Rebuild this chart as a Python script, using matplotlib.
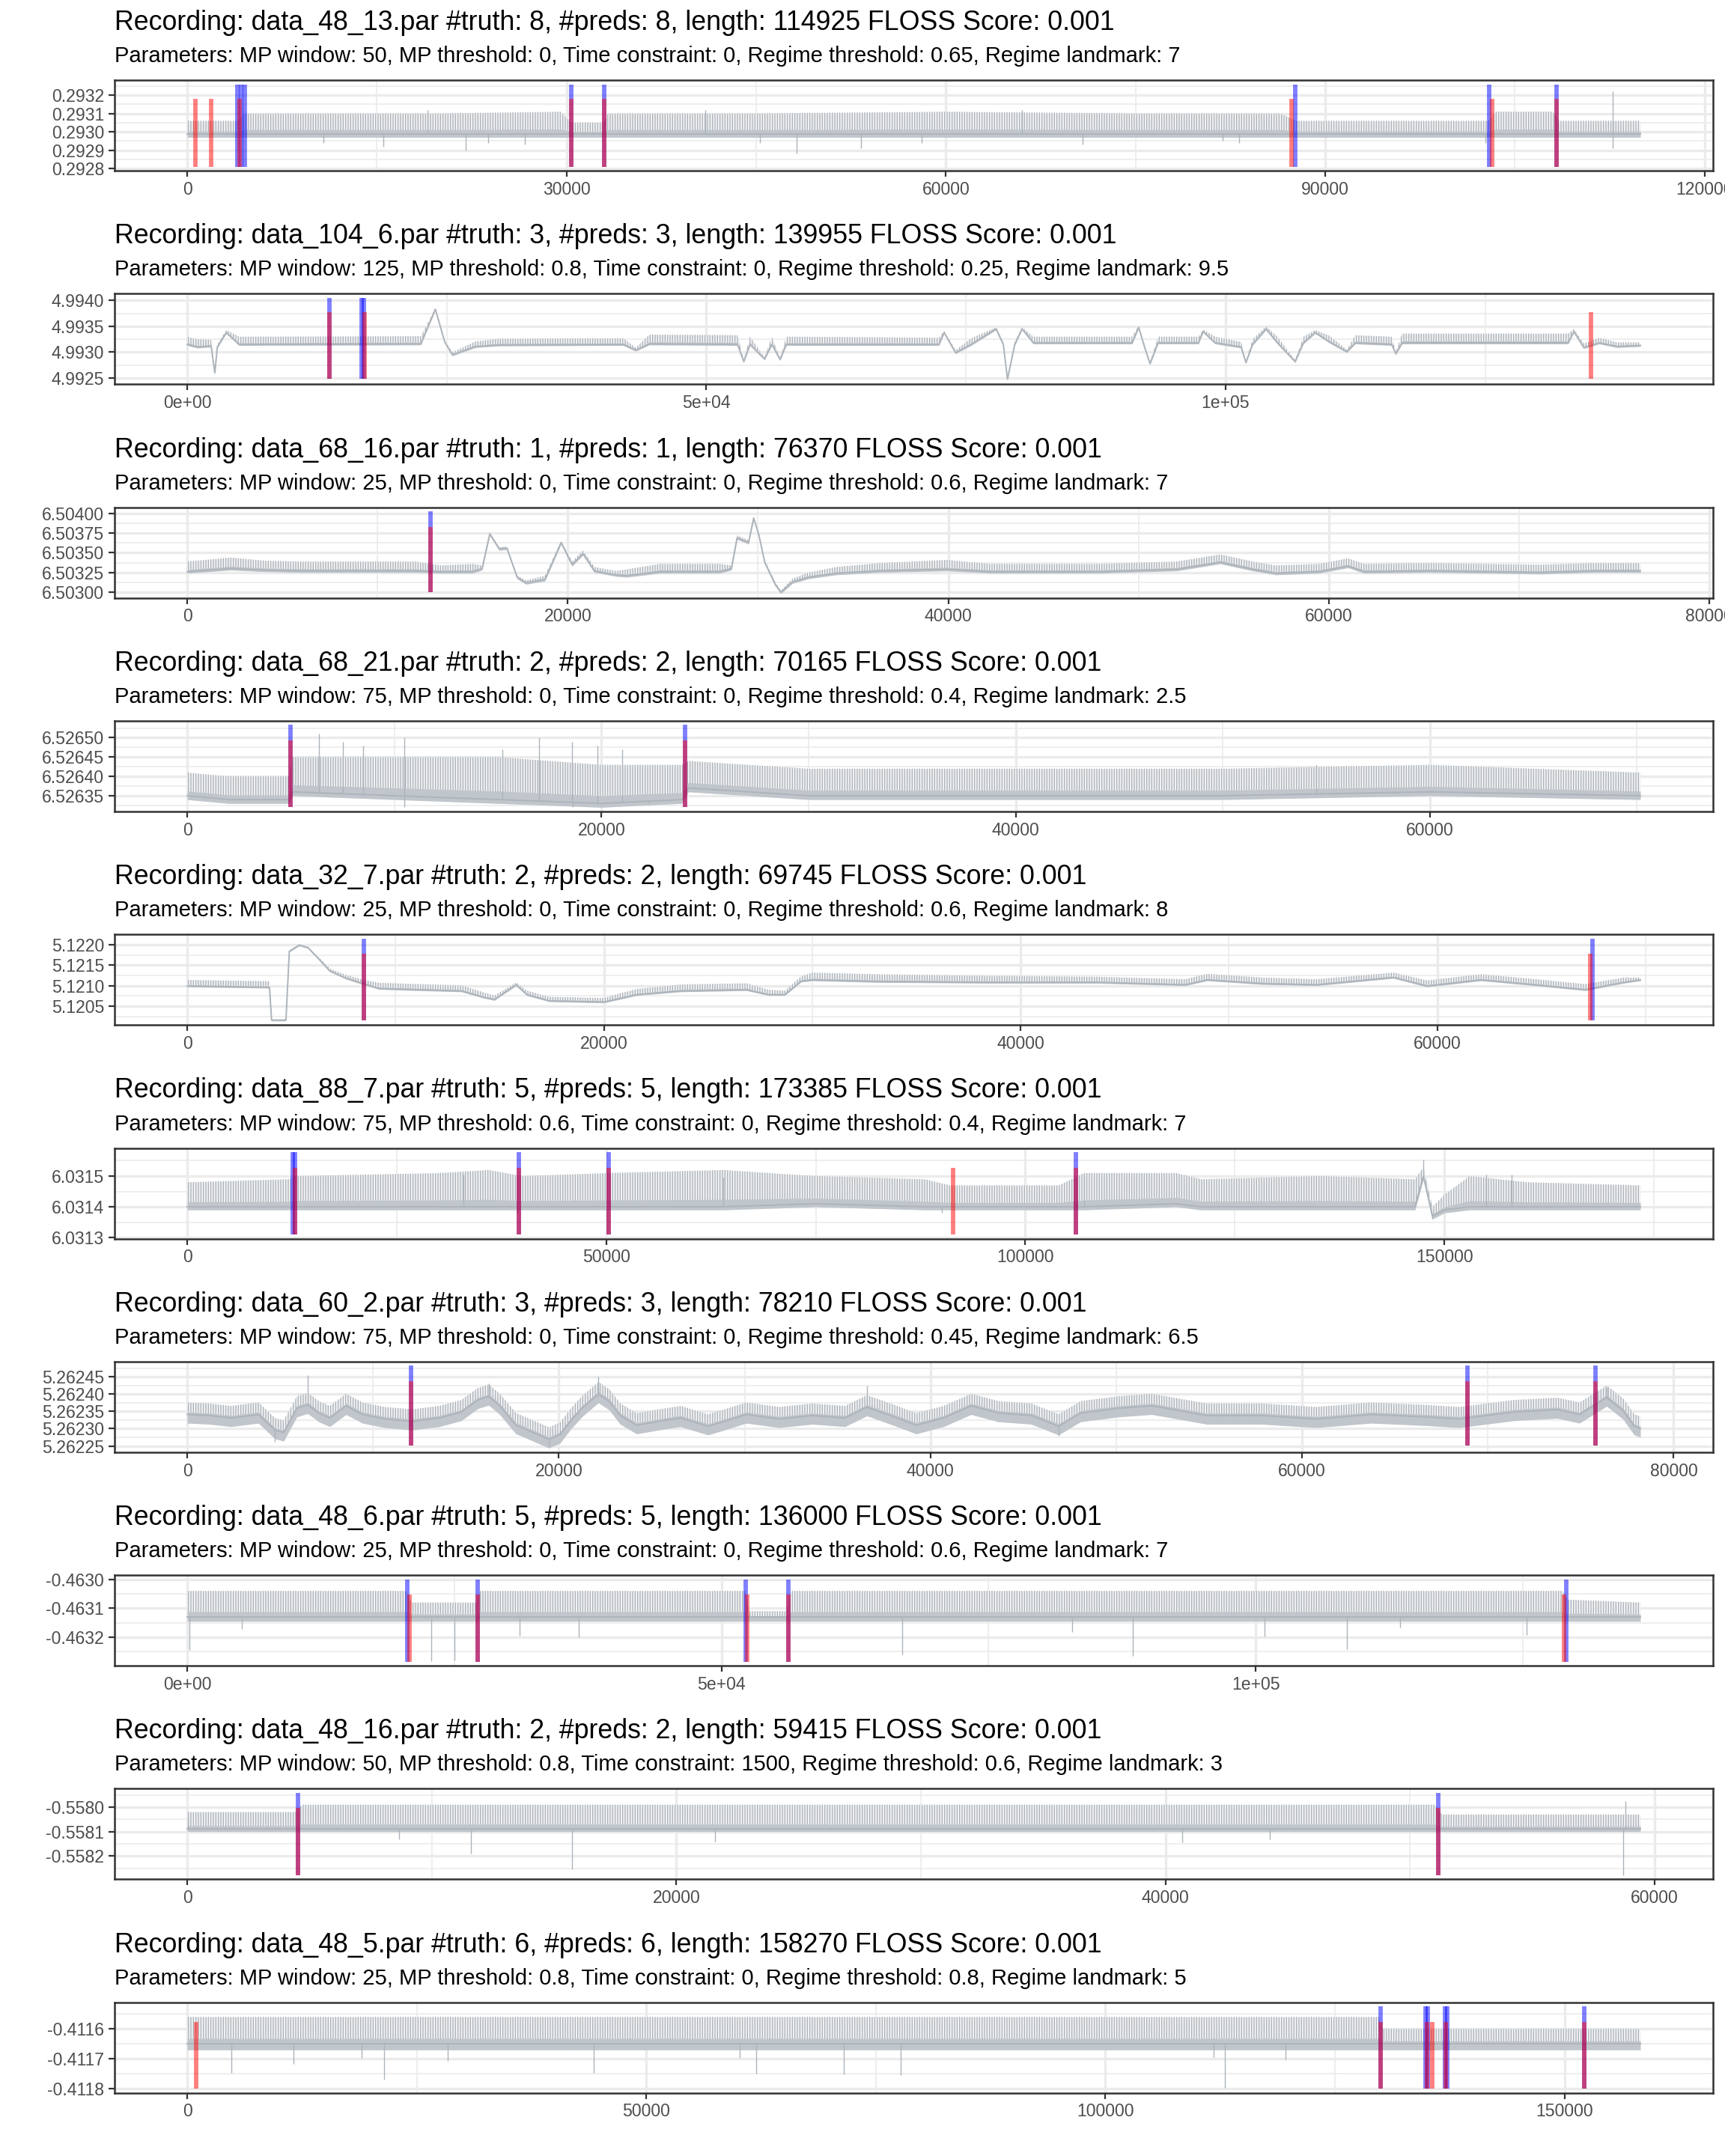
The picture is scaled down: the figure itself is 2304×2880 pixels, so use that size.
import numpy as np
import matplotlib.pyplot as plt
from matplotlib.ticker import FixedLocator

plt.rcParams['font.family'] = ['Liberation Sans', 'DejaVu Sans']
plt.rcParams['hatch.linewidth'] = 0.45

# ---- recording info (one entry per panel, top to bottom) ----
recordings = ["data_48_13.par", "data_104_6.par", "data_68_16.par", "data_68_21.par",
              "data_32_7.par", "data_88_7.par", "data_60_2.par", "data_48_6.par",
              "data_48_16.par", "data_48_5.par"]
n_truth = [8, 3, 1, 2, 2, 5, 3, 5, 2, 6]
n_preds = [8, 3, 1, 2, 2, 5, 3, 5, 2, 6]
lengths = [114925, 139955, 76370, 70165, 69745, 173385, 78210, 136000, 59415, 158270]
floss_score = ["0.001"] * 10
mp_window = ["50", "125", "25", "75", "25", "75", "75", "25", "50", "25"]
mp_threshold = ["0", "0.8", "0", "0", "0", "0.6", "0", "0", "0.8", "0.8"]
time_constraint = ["0", "0", "0", "0", "0", "0", "0", "0", "1500", "0"]
regime_threshold = ["0.65", "0.25", "0.6", "0.4", "0.6", "0.4", "0.45", "0.6", "0.6", "0.8"]
regime_landmark = ["7", "9.5", "7", "2.5", "8", "7", "6.5", "7", "3", "5"]

# ---- panel 1 ----
p1_x = [0, 3900, 4600, 12000, 20000, 29500, 30400, 32900, 33300, 45000, 60000, 75000,
        86500, 87700, 95000, 102900, 103500, 108000, 108500, 114925]
p1_y = [0.29299] * 20
p1_up = [0.00007, 0.00007, 0.00011, 0.00011, 0.00011, 0.00012, 0.00006, 0.00006, 0.00011,
         0.00011, 0.00012, 0.00011, 0.00011, 0.00007, 0.00007, 0.00007, 0.00012, 0.00012,
         0.00007, 0.00007]
p1_spikes = [(10800, 0.29294), (15500, 0.29292), (22000, 0.29290), (23800, 0.29294),
             (26700, 0.29293), (45300, 0.29294), (48200, 0.29288), (53300, 0.29291),
             (58100, 0.29294), (70800, 0.29293), (81900, 0.29295), (83200, 0.29294),
             (102700, 0.29294), (112750, 0.29291), (112750, 0.29322), (19000, 0.29312),
             (41000, 0.29312), (66000, 0.29312)]
p1_truth = [660, 1910, 4130, 30360, 32980, 87350, 103200, 108300]
p1_preds = [3950, 4250, 4550, 30360, 32980, 87630, 102980, 108300]
p1_seg = [0.29281, 0.29318, 0.29326]   # bottom, truth top, pred top

# ---- panel 2 ----
p2_x = [0, 1000, 2300, 2660, 2900, 3760, 5000, 22500, 23900, 24800, 25530, 27770, 30000,
        42000, 43200, 44500, 53000, 53600, 54200, 55600, 56300, 57100, 57700, 72400, 72900,
        74000, 75500, 77900, 78600, 79000, 79700, 80400, 81500, 91000, 91640, 92200, 92730,
        93500, 97400, 97840, 99000, 101500, 101960, 102600, 103900, 105000, 106700, 107500,
        108630, 110000, 111680, 112500, 116000, 116400, 117000, 133000, 133550, 134500,
        136000, 137700, 139955]
p2_y = [4.99315, 4.99310, 4.99312, 4.99260, 4.99310, 4.99338, 4.99315, 4.99316, 4.99383,
        4.99320, 4.99295, 4.99311, 4.99314, 4.99315, 4.99304, 4.99316, 4.99315, 4.99282,
        4.99315, 4.99287, 4.99315, 4.99286, 4.99315, 4.99315, 4.99338, 4.99299, 4.99315,
        4.99345, 4.99315, 4.99248, 4.99315, 4.99345, 4.99318, 4.99318, 4.99348, 4.99310,
        4.99278, 4.99318, 4.99318, 4.99340, 4.99318, 4.99310, 4.99280, 4.99315, 4.99345,
        4.99318, 4.99282, 4.99318, 4.99338, 4.99320, 4.99301, 4.99318, 4.99315, 4.99297,
        4.99318, 4.99318, 4.99340, 4.99309, 4.99318, 4.99311, 4.99313]
p2_up = [0.00015, 0.00015, 0.00012, 0.00002, 0.00005, 0.00005, 0.00015, 0.00015, 0.00002,
         0.00002, 0.00005, 0.00010, 0.00012, 0.00012, 0.00005, 0.00018, 0.00018, 0.00003,
         0.00015, 0.00003, 0.00015, 0.00003, 0.00015, 0.00013, 0.00003, 0.00005, 0.00012,
         0.00003, 0.00005, 0.00002, 0.00005, 0.00003, 0.00012, 0.00012, 0.00003, 0.00005,
         0.00003, 0.00012, 0.00012, 0.00004, 0.00012, 0.00010, 0.00003, 0.00010, 0.00005,
         0.00012, 0.00003, 0.00012, 0.00005, 0.00012, 0.00004, 0.00015, 0.00015, 0.00004,
         0.00018, 0.00018, 0.00005, 0.00008, 0.00010, 0.00008, 0.00006]
p2_spikes = []
p2_truth = [13700, 17120, 135200]
p2_preds = [13700, 16800, 17000]
p2_seg = [4.99248, 4.99377, 4.99405]

# ---- panel 3 ----
p3_x = [0, 2300, 4050, 6000, 12000, 13300, 15000, 15500, 15900, 16400, 16800, 17340, 17800,
        18800, 19650, 20230, 20800, 21400, 22540, 23100, 24850, 28000, 28600, 28900, 29500,
        29770, 30050, 30350, 30900, 31200, 31800, 32650, 34100, 36400, 39900, 42200, 48000,
        52000, 54300, 56000, 57200, 59500, 61000, 61850, 65300, 68200, 71100, 74000, 76370]
p3_y = [6.50326, 6.50330, 6.50328, 6.50327, 6.50327, 6.50326, 6.50326, 6.50330, 6.50374,
        6.50355, 6.50356, 6.50319, 6.50312, 6.50316, 6.50363, 6.50335, 6.50349, 6.50327,
        6.50322, 6.50321, 6.50326, 6.50326, 6.50330, 6.50369, 6.50363, 6.50394, 6.50372,
        6.50338, 6.50310, 6.50300, 6.50313, 6.50319, 6.50324, 6.50327, 6.50329, 6.50326,
        6.50326, 6.50329, 6.50338, 6.50329, 6.50324, 6.50326, 6.50333, 6.50326, 6.50327,
        6.50326, 6.50325, 6.50327, 6.50327]
p3_up = [0.00013, 0.00014, 0.00012, 0.00012, 0.00012, 0.00008, 0.00010, 0.00004, 0.00002,
         0.00002, 0.00002, 0.00002, 0.00003, 0.00005, 0.00002, 0.00004, 0.00004, 0.00005,
         0.00005, 0.00008, 0.00010, 0.00010, 0.00004, 0.00003, 0.00003, 0.00002, 0.00002,
         0.00003, 0.00003, 0.00002, 0.00004, 0.00006, 0.00008, 0.00010, 0.00012, 0.00010,
         0.00010, 0.00010, 0.00010, 0.00010, 0.00010, 0.00010, 0.00010, 0.00010, 0.00010,
         0.00010, 0.00010, 0.00010, 0.00010]
p3_spikes = []
p3_truth = [12770]
p3_preds = [12770]
p3_seg = [6.503, 6.50383, 6.504025]

# ---- panel 4 ----
p4_x = [0, 2000, 4900, 5100, 10000, 15000, 20000, 23900, 24200, 30000, 40000, 50000,
        60000, 70165]
p4_y = [6.52635, 6.52634, 6.52634, 6.52636, 6.52635, 6.52634, 6.52633, 6.52634, 6.52637,
        6.52635, 6.52635, 6.52635, 6.52636, 6.52635]
p4_up = [0.00006, 0.00006, 0.00006, 0.00009, 0.00010, 0.00011, 0.00010, 0.00009, 0.00007,
         0.00007, 0.00007, 0.00007, 0.00007, 0.00006]
p4_spikes = [(6370, 6.52651), (7500, 6.52649), (8500, 6.52648), (10500, 6.52650),
             (15200, 6.52647), (16980, 6.52650), (18570, 6.52649), (19800, 6.52648),
             (21000, 6.52647), (10500, 6.52632), (18600, 6.52632), (22280, 6.52633),
             (54500, 6.52643)]
p4_truth = [4990, 24030]
p4_preds = [4990, 24030]
p4_seg = [6.52632, 6.526494, 6.526533]

# ---- panel 5 ----
p5_x = [0, 3950, 4050, 4740, 4900, 5370, 5790, 6300, 6840, 7630, 8420, 9210, 11050, 13160,
        14210, 14740, 15790, 16300, 17370, 20000, 20530, 21580, 23680, 26840, 27900, 28680,
        29470, 30000, 33160, 38420, 43680, 47900, 48950, 51580, 54200, 57900, 59500, 62100,
        64700, 67100, 68950, 69745]
p5_y = [5.12099, 5.12096, 5.12016, 5.12016, 5.12184, 5.12199, 5.12193, 5.12166, 5.12136,
        5.12118, 5.12105, 5.12093, 5.12090, 5.12087, 5.12072, 5.12066, 5.12102, 5.12078,
        5.12063, 5.12060, 5.12066, 5.12078, 5.12087, 5.12090, 5.12078, 5.12078, 5.12111,
        5.12114, 5.12110, 5.12108, 5.12108, 5.12102, 5.12114, 5.12105, 5.12102, 5.12120,
        5.12099, 5.12114, 5.12102, 5.12090, 5.12108, 5.12114]
p5_up = [0.00015, 0.00015, 0.00001, 0.00001, 0.00001, 0.00002, 0.00002, 0.00004, 0.00006,
         0.00008, 0.00010, 0.00014, 0.00014, 0.00014, 0.00012, 0.00010, 0.00006, 0.00010,
         0.00010, 0.00010, 0.00012, 0.00014, 0.00016, 0.00016, 0.00012, 0.00010, 0.00012,
         0.00018, 0.00018, 0.00016, 0.00014, 0.00014, 0.00015, 0.00015, 0.00014, 0.00012,
         0.00014, 0.00014, 0.00014, 0.00014, 0.00012, 0.00006]
p5_spikes = []
p5_truth = [8470, 67330]
p5_preds = [8470, 67450]
p5_seg = [5.12016, 5.12178, 5.12215]

# ---- panel 6 ----
p6_x = [0, 12000, 13000, 30000, 36000, 40000, 50000, 64000, 75000, 88000, 91000, 104000,
        107000, 118000, 121000, 135000, 146500, 147500, 148570, 150000, 153000, 160000, 173385]
p6_y = [6.03140, 6.03140, 6.03140, 6.03140, 6.03140, 6.03140, 6.03140, 6.03140, 6.03141,
        6.03140, 6.03140, 6.03140, 6.03140, 6.03141, 6.03140, 6.03140, 6.03140, 6.03150,
        6.03137, 6.03139, 6.03140, 6.03140, 6.03140]
p6_up = [0.00008, 0.00009, 0.00010, 0.00011, 0.00012, 0.00010, 0.00011, 0.00012, 0.00009,
         0.00009, 0.00007, 0.00007, 0.00011, 0.00010, 0.00009, 0.00010, 0.00009, 0.00003,
         0.00003, 0.00005, 0.00010, 0.00008, 0.00007]
p6_spikes = [(147500, 6.031554), (155000, 6.031505), (158000, 6.031505), (33000, 6.031505),
             (64000, 6.031495), (107000, 6.0315), (148570, 6.03136), (39400, 6.03138),
             (90000, 6.03138)]
p6_truth = [12830, 39530, 50270, 91370, 106030]
p6_preds = [12570, 12830, 39530, 50270, 106030]
p6_seg = [6.03131, 6.031528, 6.031578]

# ---- panel 7 ----
p7_x = [0, 1180, 2360, 3840, 4720, 5190, 5900, 6490, 7080, 7670, 8550, 9440, 10620, 12100,
        13570, 14750, 15640, 16230, 16820, 17700, 18880, 19470, 20060, 20650, 21240, 22130,
        22720, 23310, 24190, 25370, 26550, 28030, 28910, 30090, 31860, 33630, 35400, 36580,
        38055, 39235, 40710, 42190, 43660, 45430, 46900, 48080, 50150, 51920, 54870, 57820,
        60770, 63720, 66670, 68440, 71390, 73750, 74930, 76400, 77290, 77880, 78210]
p7_y = [5.262341, 5.262338, 5.262331, 5.262341, 5.262296, 5.262289, 5.262359, 5.262369,
        5.262345, 5.262331, 5.262366, 5.262341, 5.262328, 5.262321, 5.262331, 5.262348,
        5.262383, 5.262393, 5.262366, 5.262310, 5.262283, 5.262269, 5.262283, 5.262324,
        5.262359, 5.262400, 5.262379, 5.262338, 5.262310, 5.262321, 5.262331, 5.262307,
        5.262321, 5.262341, 5.262328, 5.262338, 5.262331, 5.262362, 5.262334, 5.262310,
        5.262331, 5.262366, 5.262345, 5.262338, 5.262307, 5.262345, 5.262359, 5.262366,
        5.262338, 5.262338, 5.262328, 5.262341, 5.262334, 5.262328, 5.262348, 5.262355,
        5.262341, 5.262390, 5.262352, 5.262307, 5.262300]
p7_up = [0.000035] * 61
p7_spikes = [(6490, 5.262455), (22130, 5.262450), (36580, 5.262424), (16230, 5.262430),
             (76400, 5.262420), (4720, 5.262262), (19470, 5.262250), (46900, 5.262280)]
p7_truth = [12040, 68900, 75800]
p7_preds = [12040, 68900, 75800]
p7_seg = [5.262252, 5.262438, 5.262482]

# ---- panel 8 ----
p8_x = [0, 20500, 21000, 27000, 27400, 52200, 52600, 56100, 56500, 128700, 129200, 136000]
p8_y = [-0.46313] * 12
p8_up = [0.00009, 0.00009, 0.00005, 0.00005, 0.00009, 0.00009, 0.00002, 0.00002, 0.00009,
         0.00009, 0.00006, 0.00005]
p8_spikes = [(206, -0.463243), (5145, -0.463172), (22840, -0.463282), (25000, -0.46328),
             (31080, -0.463194), (36630, -0.46320), (66890, -0.46326), (82840, -0.463183),
             (88490, -0.463265), (100840, -0.463196), (108560, -0.463241),
             (113500, -0.463167), (125330, -0.463191)]
p8_truth = [20790, 27170, 52380, 56290, 128830]
p8_preds = [20580, 27170, 52280, 56290, 129040]
p8_seg = [-0.463284, -0.463052, -0.46300]

# ---- panel 9 ----
p9_x = [0, 4400, 4700, 51000, 51300, 59415]
p9_y = [-0.55809] * 6
p9_up = [0.00007, 0.00007, 0.00010, 0.00010, 0.00006, 0.00006]
p9_spikes = [(8670, -0.558131), (11590, -0.558189), (15730, -0.558253), (21570, -0.558141),
             (40670, -0.558144), (44270, -0.558131), (58700, -0.558278), (58800, -0.557975),
             (30, -0.55804)]
p9_truth = [4540, 51140]
p9_preds = [4540, 51140]
p9_seg = [-0.558278, -0.558003, -0.557942]

# ---- panel 10 ----
p10_x = [0, 129800, 130200, 158270]
p10_y = [-0.41165] * 4
p10_up = [0.00009, 0.00009, 0.00005, 0.00005]
p10_spikes = [(4780, -0.411746), (11600, -0.411716), (19020, -0.411698), (21410, -0.411769),
              (28350, -0.411708), (44250, -0.411746), (60160, -0.411698), (61950, -0.411749),
              (71520, -0.411752), (77740, -0.411754), (111830, -0.411694),
              (113020, -0.411798), (119600, -0.411702)]
p10_truth = [960, 130000, 135030, 135630, 137060, 152130]
p10_preds = [130000, 134900, 135150, 136950, 137200, 152130]
p10_seg = [-0.4118, -0.411576, -0.411525]

noise_below = [0.00002, 0.00002, 0.00002, 0.00001, 0.00002, 0.00001, 0.000025, 0.000015,
               0.00001, 0.00002]

# ---- axis ticks ----
x_ticks = [[0, 30000, 60000, 90000, 120000], [0, 50000, 100000],
           [0, 20000, 40000, 60000, 80000], [0, 20000, 40000, 60000],
           [0, 20000, 40000, 60000], [0, 50000, 100000, 150000],
           [0, 20000, 40000, 60000, 80000], [0, 50000, 100000],
           [0, 20000, 40000, 60000], [0, 50000, 100000, 150000]]
x_labels = [["0", "30000", "60000", "90000", "120000"], ["0e+00", "5e+04", "1e+05"],
            ["0", "20000", "40000", "60000", "80000"], ["0", "20000", "40000", "60000"],
            ["0", "20000", "40000", "60000"], ["0", "50000", "100000", "150000"],
            ["0", "20000", "40000", "60000", "80000"], ["0e+00", "5e+04", "1e+05"],
            ["0", "20000", "40000", "60000"], ["0", "50000", "100000", "150000"]]
y_labels = [["0.2928", "0.2929", "0.2930", "0.2931", "0.2932"],
            ["4.9925", "4.9930", "4.9935", "4.9940"],
            ["6.50300", "6.50325", "6.50350", "6.50375", "6.50400"],
            ["6.52635", "6.52640", "6.52645", "6.52650"],
            ["5.1205", "5.1210", "5.1215", "5.1220"],
            ["6.0313", "6.0314", "6.0315"],
            ["5.26225", "5.26230", "5.26235", "5.26240", "5.26245"],
            ["-0.4632", "-0.4631", "-0.4630"],
            ["-0.5582", "-0.5581", "-0.5580"],
            ["-0.4118", "-0.4117", "-0.4116"]]

panels = [
    (p1_x, p1_y, p1_up, p1_spikes, p1_truth, p1_preds, p1_seg),
    (p2_x, p2_y, p2_up, p2_spikes, p2_truth, p2_preds, p2_seg),
    (p3_x, p3_y, p3_up, p3_spikes, p3_truth, p3_preds, p3_seg),
    (p4_x, p4_y, p4_up, p4_spikes, p4_truth, p4_preds, p4_seg),
    (p5_x, p5_y, p5_up, p5_spikes, p5_truth, p5_preds, p5_seg),
    (p6_x, p6_y, p6_up, p6_spikes, p6_truth, p6_preds, p6_seg),
    (p7_x, p7_y, p7_up, p7_spikes, p7_truth, p7_preds, p7_seg),
    (p8_x, p8_y, p8_up, p8_spikes, p8_truth, p8_preds, p8_seg),
    (p9_x, p9_y, p9_up, p9_spikes, p9_truth, p9_preds, p9_seg),
    (p10_x, p10_y, p10_up, p10_spikes, p10_truth, p10_preds, p10_seg),
]

W, H = 2304, 2880
fig = plt.figure(figsize=(W / 200, H / 200), dpi=200)

trace_col = '#adb4bb'
dense_col = '#c0c6cb'
comb_col = '#aab1b8'
haze_col = '#f0f1f2'
grid_col = '#ebebeb'
dark = '#333333'

for k, (xs, ys, up, spikes, truth, preds, seg) in enumerate(panels):
    xs = np.array(xs, dtype=float)
    ys = np.array(ys)
    up = np.array(up)
    dn = noise_below[k]
    L = lengths[k]
    top_px = 107 + 285.3 * k
    ax = fig.add_axes([153 / W, 1 - (top_px + 121) / H, 2135 / W, 121 / H])

    # signal: faint envelope, comb of spikes, dense core, trace
    ax.fill_between(xs, ys - dn, ys + up, color=haze_col, lw=0)
    ax.fill_between(xs, ys - dn, ys + up, facecolor='none', edgecolor=comb_col,
                    hatch='|' * 10, lw=0)
    ax.fill_between(xs, ys - dn, ys + 0.2 * up, color=dense_col, lw=0)
    ax.plot(xs, ys, color=trace_col, lw=0.7)
    if spikes:
        sx = np.array([s[0] for s in spikes])
        sy = np.array([s[1] for s in spikes])
        ax.vlines(sx, np.interp(sx, xs, ys), sy, color=trace_col, lw=0.5)

    # predictions (blue) under truth (red)
    ax.vlines(preds, seg[0], seg[2], color='#0000ff', alpha=0.5, lw=2.1)
    ax.vlines(truth, seg[0], seg[1], color='#ff0000', alpha=0.5, lw=2.1)

    # limits like ggplot's 5% expansion
    lo = min(seg[0], np.min(ys - dn))
    hi = max(seg[2], np.max(ys + up))
    if spikes:
        lo = min(lo, min(s[1] for s in spikes))
        hi = max(hi, max(s[1] for s in spikes))
    pad = 0.05 * (hi - lo)
    ax.set_ylim(lo - pad, hi + pad)
    ax.set_xlim(-0.05 * L, 1.05 * L)

    yt = [float(v) for v in y_labels[k]]
    ax.set_yticks(yt)
    ax.set_yticklabels(y_labels[k])
    ax.set_xticks(x_ticks[k])
    ax.set_xticklabels(x_labels[k])
    ystep = yt[1] - yt[0]
    xstep = x_ticks[k][1] - x_ticks[k][0]
    ax.yaxis.set_minor_locator(FixedLocator([yt[0] - ystep / 2] + [v + ystep / 2 for v in yt]))
    ax.xaxis.set_minor_locator(FixedLocator([x_ticks[k][0] - xstep / 2] + [v + xstep / 2 for v in x_ticks[k]]))
    ax.grid(which='major', color=grid_col, lw=1.2)
    ax.grid(which='minor', color=grid_col, lw=0.6)
    ax.set_axisbelow(True)
    ax.tick_params(which='major', direction='out', length=2.75, width=0.8, color=dark,
                   labelsize=8.3, labelcolor='#4d4d4d', pad=2.2)
    ax.tick_params(which='minor', length=0)
    for sp in ax.spines.values():
        sp.set_color(dark)
        sp.set_linewidth(0.9)

    title = (f"Recording: {recordings[k]} #truth: {n_truth[k]}, #preds: {n_preds[k]}, "
             f"length: {lengths[k]} FLOSS Score: {floss_score[k]}")
    subtitle = (f"Parameters: MP window: {mp_window[k]}, MP threshold: {mp_threshold[k]}, "
                f"Time constraint: {time_constraint[k]}, Regime threshold: {regime_threshold[k]}, "
                f"Regime landmark: {regime_landmark[k]}")
    fig.text(153 / W, 1 - (40 + 285.3 * k) / H, title, fontsize=12.9, va='baseline', ha='left')
    fig.text(153 / W, 1 - (83 + 285.3 * k) / H, subtitle, fontsize=10.5, va='baseline', ha='left')

fig.savefig('out.png', dpi=200, facecolor='white')
